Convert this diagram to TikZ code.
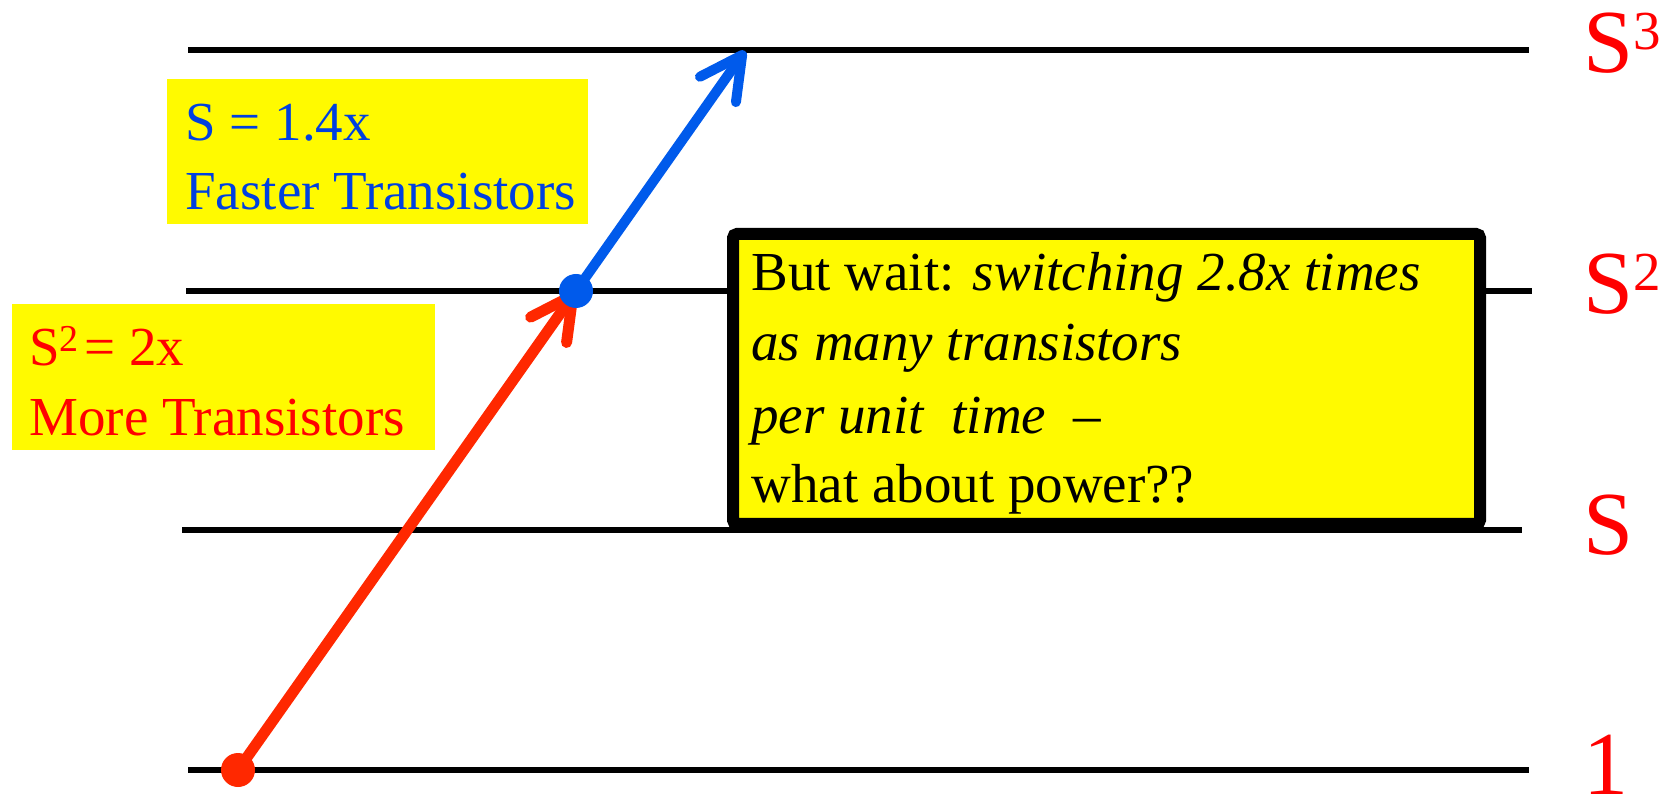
\documentclass[tikz,border=0pt]{standalone}
\usepackage{fontspec}
\setmainfont{Liberation Serif}
\usetikzlibrary{arrows.meta}

\definecolor{hiyellow}{RGB}{255,250,0}
\definecolor{scalered}{RGB}{255,0,0}
\definecolor{arrowred}{RGB}{255,40,0}
\definecolor{textblue}{RGB}{0,64,224}
\definecolor{arrowblue}{RGB}{0,90,235}

\pgfdeclarelayer{back}
\pgfdeclarelayer{paths}
\pgfsetlayers{back,paths,main}

\begin{document}
\begin{tikzpicture}[x=0.5pt, y=-0.5pt,
  level/.style={line width=3pt, black},
  lvl/.style={anchor=base west, inner sep=0pt, text=scalered,
    font=\fontsize{45pt}{45pt}\selectfont},
  panel/.style={fill=hiyellow, inner sep=0pt, outer sep=0pt, anchor=north west},
  txt/.style={anchor=base west, inner sep=0pt, font=\fontsize{27.5pt}{33pt}\selectfont},
  dot/.style={circle, inner sep=0pt, outer sep=0pt, minimum size=17pt},
  growth/.style={line width=5.5pt, -{Straight Barb[round, length=21pt, width=22pt]}},
]
\useasboundingbox (0,0) rectangle (1668,795);

% level lines and highlight panels
\begin{pgfonlayer}{back}
  \draw[level] (188,50.5) -- (1529,50.5);
  \draw[level] (186,291) -- (1532,291);
  \draw[level] (182,530.5) -- (1522,530.5);
  \draw[level] (188,770) -- (1529,770);
  \node[panel, minimum width=210.5pt, minimum height=72.5pt] (fastbox) at (167,79) {};
  \node[panel, minimum width=211.5pt, minimum height=73pt] (morebox) at (12,304) {};
\end{pgfonlayer}

% level labels
\node[lvl] (l3) at (1583,73) {S\raisebox{11.5pt}{\fontsize{27.5pt}{27.5pt}\selectfont 3}};
\node[lvl] (l2) at (1583,314) {S\raisebox{11.5pt}{\fontsize{27.5pt}{27.5pt}\selectfont 2}};
\node[lvl] (l1) at (1583,554) {S};
\node[lvl] (l0) at (1583,794) {1};

% panel texts
\node[txt, text=textblue] (fast1) at (185,141) {S = 1.4x};
\node[txt, text=textblue] (fast2) at (185,210) {Faster Transistors};
\node[txt, text=scalered] (more1) at (29,366)
  {S\raisebox{7pt}{\fontsize{19pt}{19pt}\selectfont 2}\hspace{0.1em}= 2x};
\node[txt, text=scalered] (more2) at (29,436) {More Transistors};

% the warning box
\node[panel, draw=black, line width=6pt, rounded corners=2pt,
  minimum width=373.5pt, minimum height=145pt] (waitbox) at (733,234) {};
\node[txt] (wait1) at (751,291) {But wait: \textit{switching 2.8x times}};
\node[txt] (wait2) at (751,361) {\textit{as many transistors}};
\node[txt] (wait3) at (751,434) {\textit{per unit\ \ time}\ \ –};
\node[txt] (wait4) at (751,503) {what about power??};

% growth arrows
\node[dot, fill=arrowred] (rdot) at (238,770) {};
\node[dot, fill=arrowblue] (bdot) at (576,291) {};
\coordinate (tip) at (745,51);
\begin{pgfonlayer}{paths}
  \draw[growth, arrowred] (rdot.center) -- (bdot.center);
  \draw[growth, arrowblue, line width=5pt] (bdot.center) -- (tip);
\end{pgfonlayer}
\end{tikzpicture}
\end{document}
